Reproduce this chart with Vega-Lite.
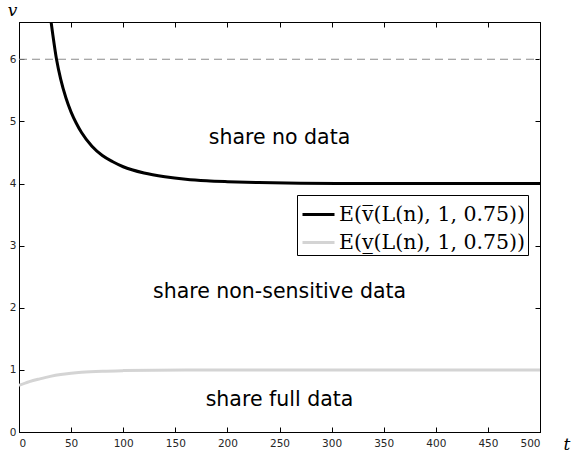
{
  "$schema": "https://vega.github.io/schema/vega-lite/v6.json",
  "autosize": "none",
  "width": 521,
  "height": 410,
  "padding": {"left": 19, "top": 22, "right": 47, "bottom": 25},
  "background": "white",
  "config": {
    "view": {"stroke": "black", "strokeWidth": 1},
    "axis": {"grid": false, "domainColor": "black", "tickColor": "black", "labelColor": "#262626", "labelFont": "DejaVu Sans", "labelFontSize": 10.5, "tickSize": -5, "labelPadding": 8}
  },
  "datasets": {
    "curves": [
      {"t": 28, "v": 6.95, "s": "E(v\u0305(L(n), 1, 0.75))"},
      {"t": 32, "v": 6.45, "s": "E(v\u0305(L(n), 1, 0.75))"},
      {"t": 36, "v": 6.0, "s": "E(v\u0305(L(n), 1, 0.75))"},
      {"t": 40, "v": 5.68, "s": "E(v\u0305(L(n), 1, 0.75))"},
      {"t": 45, "v": 5.38, "s": "E(v\u0305(L(n), 1, 0.75))"},
      {"t": 50, "v": 5.15, "s": "E(v\u0305(L(n), 1, 0.75))"},
      {"t": 55, "v": 4.97, "s": "E(v\u0305(L(n), 1, 0.75))"},
      {"t": 60, "v": 4.82, "s": "E(v\u0305(L(n), 1, 0.75))"},
      {"t": 70, "v": 4.6, "s": "E(v\u0305(L(n), 1, 0.75))"},
      {"t": 80, "v": 4.45, "s": "E(v\u0305(L(n), 1, 0.75))"},
      {"t": 90, "v": 4.35, "s": "E(v\u0305(L(n), 1, 0.75))"},
      {"t": 100, "v": 4.27, "s": "E(v\u0305(L(n), 1, 0.75))"},
      {"t": 120, "v": 4.17, "s": "E(v\u0305(L(n), 1, 0.75))"},
      {"t": 140, "v": 4.11, "s": "E(v\u0305(L(n), 1, 0.75))"},
      {"t": 160, "v": 4.07, "s": "E(v\u0305(L(n), 1, 0.75))"},
      {"t": 180, "v": 4.045, "s": "E(v\u0305(L(n), 1, 0.75))"},
      {"t": 200, "v": 4.03, "s": "E(v\u0305(L(n), 1, 0.75))"},
      {"t": 230, "v": 4.015, "s": "E(v\u0305(L(n), 1, 0.75))"},
      {"t": 270, "v": 4.005, "s": "E(v\u0305(L(n), 1, 0.75))"},
      {"t": 320, "v": 4.0, "s": "E(v\u0305(L(n), 1, 0.75))"},
      {"t": 500, "v": 4.0, "s": "E(v\u0305(L(n), 1, 0.75))"},
      {"t": 0, "v": 0.75, "s": "E(v\u0332(L(n), 1, 0.75))"},
      {"t": 10, "v": 0.81, "s": "E(v\u0332(L(n), 1, 0.75))"},
      {"t": 20, "v": 0.855, "s": "E(v\u0332(L(n), 1, 0.75))"},
      {"t": 30, "v": 0.895, "s": "E(v\u0332(L(n), 1, 0.75))"},
      {"t": 40, "v": 0.925, "s": "E(v\u0332(L(n), 1, 0.75))"},
      {"t": 50, "v": 0.945, "s": "E(v\u0332(L(n), 1, 0.75))"},
      {"t": 60, "v": 0.96, "s": "E(v\u0332(L(n), 1, 0.75))"},
      {"t": 80, "v": 0.978, "s": "E(v\u0332(L(n), 1, 0.75))"},
      {"t": 100, "v": 0.988, "s": "E(v\u0332(L(n), 1, 0.75))"},
      {"t": 130, "v": 0.996, "s": "E(v\u0332(L(n), 1, 0.75))"},
      {"t": 160, "v": 1.0, "s": "E(v\u0332(L(n), 1, 0.75))"},
      {"t": 500, "v": 1.0, "s": "E(v\u0332(L(n), 1, 0.75))"}
    ],
    "ref": [{"t": 0, "v": 6}, {"t": 500, "v": 6}],
    "notes": [
      {"t": 250, "v": 4.73, "label": "share no data"},
      {"t": 250, "v": 2.25, "label": "share non-sensitive data"},
      {"t": 250, "v": 0.52, "label": "share full data"}
    ]
  },
  "resolve": {"axis": {"x": "independent", "y": "independent"}},
  "layer": [
    {
      "data": {"name": "ref"},
      "mark": {"type": "line", "color": "#8c8c8c", "strokeWidth": 1.2, "strokeDash": [8, 5]},
      "encoding": {
        "x": {"field": "t", "type": "quantitative", "scale": {"domain": [0, 500], "nice": false},
          "axis": {"values": [0,50,100,150,200,250,300,350,400,450,500], "labelPadding": 11, "title": "t", "titleFont": "DejaVu Serif", "titleFontStyle": "italic", "titleFontWeight": "normal", "titleFontSize": 17, "titleAngle": 0, "titleX": 544, "titleY": 17, "titleAlign": "left", "titleBaseline": "alphabetic"}},
        "y": {"field": "v", "type": "quantitative", "scale": {"domain": [0, 6.6], "nice": false},
          "axis": {"values": [0,1,2,3,4,5,6], "title": "v", "titleFont": "DejaVu Serif", "titleFontStyle": "italic", "titleFontWeight": "normal", "titleFontSize": 17, "titleAngle": 0, "titleX": -7, "titleY": -7, "titleAlign": "center", "titleBaseline": "alphabetic"}}
      }
    },
    {
      "data": {"name": "ref"},
      "mark": {"type": "line", "opacity": 0},
      "encoding": {
        "x": {"field": "t", "type": "quantitative", "axis": {"orient": "top", "values": [0,50,100,150,200,250,300,350,400,450,500], "labels": false, "title": null}},
        "y": {"field": "v", "type": "quantitative", "axis": {"orient": "right", "values": [0,1,2,3,4,5,6], "labels": false, "title": null}}
      }
    },
    {
      "data": {"name": "curves"},
      "mark": {"type": "line", "strokeWidth": 3, "clip": true, "interpolate": "monotone"},
      "encoding": {
        "x": {"field": "t", "type": "quantitative", "axis": null},
        "y": {"field": "v", "type": "quantitative", "axis": null},
        "color": {"field": "s", "type": "nominal", "sort": null,
          "scale": {"range": ["black", "#d4d4d4"]},
          "legend": {"title": null, "orient": "none", "legendX": 278, "legendY": 173, "fillColor": "white", "strokeColor": "black", "padding": 2, "symbolOffset": 2, "symbolType": "stroke", "symbolSize": 1024, "symbolStrokeWidth": 3, "labelFont": "DejaVu Serif", "labelFontSize": 20.5, "labelColor": "black", "labelLimit": 400, "rowPadding": -2, "labelOffset": 3}}
      }
    },
    {
      "data": {"name": "notes"},
      "mark": {"type": "text", "font": "DejaVu Sans", "fontSize": 20.5, "color": "black"},
      "encoding": {
        "x": {"field": "t", "type": "quantitative", "axis": null},
        "y": {"field": "v", "type": "quantitative", "axis": null},
        "text": {"field": "label"}
      }
    }
  ]
}
